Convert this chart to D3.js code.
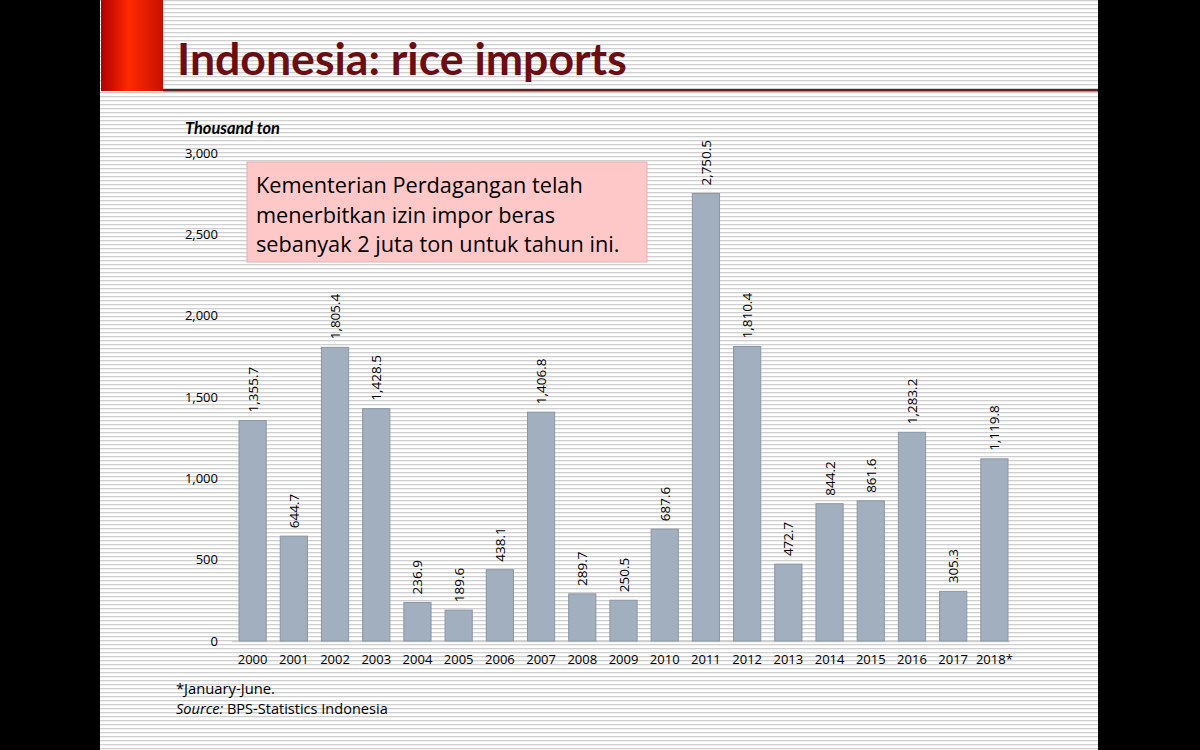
<!DOCTYPE html>
<html><head><meta charset="utf-8">
<script src="https://cdn.jsdelivr.net/npm/d3@7"></script>
<style>body{margin:0;background:#000;} svg{display:block;}</style>
</head><body>
<svg id="c" width="1200" height="750"></svg>
<script>
const years = ["2000","2001","2002","2003","2004","2005","2006","2007","2008","2009","2010","2011","2012","2013","2014","2015","2016","2017","2018*"];
const imports = [1355.7,644.7,1805.4,1428.5,236.9,189.6,438.1,1406.8,289.7,250.5,687.6,2750.5,1810.4,472.7,844.2,861.6,1283.2,305.3,1119.8];
const yTicks = [0,500,1000,1500,2000,2500,3000];
const titleText = "Indonesia: rice imports";
const unitText = "Thousand ton";
const noteLines = ["Kementerian Perdagangan telah","menerbitkan izin impor beras","sebanyak 2 juta ton untuk tahun ini."];
const footnote = "*January-June.";
const sourceText = "BPS-Statistics Indonesia";

const FONT = "'Open Sans', sans-serif";
const TFONT = "Lato, 'Open Sans', sans-serif";
const svg = d3.select("#c");
const defs = svg.append("defs");
const pat = defs.append("pattern").attr("id","stripes").attr("patternUnits","userSpaceOnUse").attr("width",8).attr("height",4);
pat.append("rect").attr("width",8).attr("height",4).attr("fill","#ffffff");
pat.append("rect").attr("y",0).attr("width",8).attr("height",1.3).attr("fill","#cfcfcf");
const grad = defs.append("linearGradient").attr("id","redg").attr("x1","0").attr("x2","1").attr("y1","0").attr("y2","0");
grad.append("stop").attr("offset","0").attr("stop-color","#b00000");
grad.append("stop").attr("offset","0.45").attr("stop-color","#ff2a00");
grad.append("stop").attr("offset","1").attr("stop-color","#c81000");

function fit(sel, target){
  const w = sel.node().getComputedTextLength();
  const fs = parseFloat(sel.attr("font-size"));
  sel.attr("font-size", fs*target/w);
}

// slide
svg.append("rect").attr("x",0).attr("y",0).attr("width",1200).attr("height",750).attr("fill","#000");
svg.append("rect").attr("x",100).attr("y",0).attr("width",998).attr("height",750).attr("fill","url(#stripes)");
svg.append("rect").attr("x",101).attr("y",0).attr("width",62).attr("height",91).attr("fill","url(#redg)");
svg.append("rect").attr("x",163).attr("y",89).attr("width",935).attr("height",2.5).attr("fill","#6e1a1a");
const title = svg.append("text").attr("x",177).attr("y",75).attr("font-family",TFONT).attr("font-weight",700)
  .attr("font-size",41).attr("fill","#6b0d12").text(titleText);
fit(title, 450);

// chart
const x = d3.scaleBand().domain(years).range([232,1015]).paddingInner(0.34).paddingOuter(0.17);
const y = d3.scaleLinear().domain([0,3000]).range([641,153]);

const unit = svg.append("text").attr("x",185).attr("y",134).attr("font-family",TFONT).attr("font-style","italic")
  .attr("font-weight",700).attr("font-size",13.5).attr("fill","#000").text(unitText);
fit(unit, 95);

const yAxis = svg.append("g").attr("transform","translate(232,0)")
  .call(d3.axisLeft(y).tickValues(yTicks).tickFormat(d3.format(",")).tickSize(0).tickPadding(14));
yAxis.select(".domain").remove();
yAxis.selectAll("text").attr("font-family",FONT).attr("font-size",13).attr("fill","#000");

svg.append("line").attr("x1",232).attr("x2",1010).attr("y1",641.5).attr("y2",641.5).attr("stroke","#d0d0d0").attr("stroke-width",1.5);

const xAxis = svg.append("g").attr("transform","translate(0,641)")
  .call(d3.axisBottom(x).tickSize(0).tickPadding(14));
xAxis.select(".domain").remove();
xAxis.selectAll("text").attr("font-family",FONT).attr("font-size",13).attr("fill","#000");

const data = years.map((yr,i)=>({yr, v: imports[i]}));
svg.append("g").selectAll("rect").data(data).join("rect")
  .attr("x",d=>x(d.yr)).attr("width",x.bandwidth())
  .attr("y",d=>y(d.v)).attr("height",d=>y(0)-y(d.v))
  .attr("fill","#a1afbe").attr("stroke","#8a96a4").attr("stroke-width",1);

svg.append("g").selectAll("text").data(data).join("text")
  .attr("transform",d=>`translate(${x(d.yr)+x.bandwidth()/2+5},${y(d.v)-8}) rotate(-90)`)
  .attr("font-family",FONT).attr("font-size",13.5).attr("fill","#000")
  .text(d=>d3.format(",.1f")(d.v));

// annotation
svg.append("rect").attr("x",247).attr("y",162).attr("width",400).attr("height",100)
  .attr("fill","#ffc8c8").attr("stroke","#e6b0b0").attr("stroke-width",1);
const nl = svg.append("g").selectAll("text").data(noteLines).join("text")
  .attr("x",256).attr("y",(d,i)=>193+i*29.5).attr("font-family",FONT).attr("font-size",20).attr("fill","#000").text(d=>d);
const w0 = nl.nodes()[0].getComputedTextLength();
nl.attr("font-size", 20*327/w0);

// footnotes
const fn = svg.append("text").attr("x",176).attr("y",694).attr("font-family",FONT).attr("font-size",13.5).attr("fill","#000").text(footnote);
fit(fn, 99);
const src = svg.append("text").attr("x",176).attr("y",714).attr("font-family",FONT).attr("font-size",13.5).attr("fill","#000");
src.append("tspan").attr("font-style","italic").text("Source:");
src.append("tspan").text(" " + sourceText);
fit(src, 212);
</script>
</body></html>
